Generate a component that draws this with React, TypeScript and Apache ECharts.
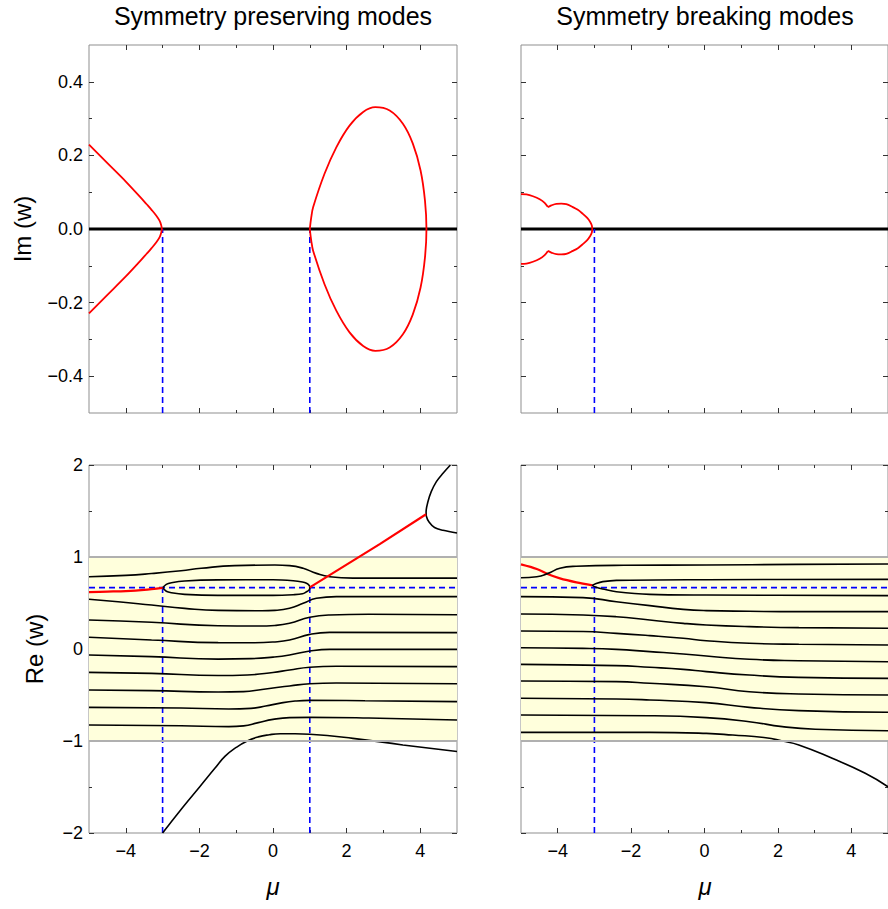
import React, { useEffect, useRef } from "react";
import * as echarts from "echarts";

// ---------- axis ranges and ticks ----------
const muRange = [-5, 5];
const imRange = [-0.5, 0.5];
const reRange = [-2, 2];
const bandRe = [-1, 1];
const xMajor = [-4, -2, 0, 2, 4];
const xMinor = [-3, -1, 1, 3];
const imMajor = [-0.4, -0.2, 0, 0.2, 0.4];
const imMinor = [-0.3, -0.1, 0.1, 0.3];
const reMajor = [-2, -1, 0, 1, 2];
const reMinor = [-1.5, -0.5, 0.5, 1.5];

// exceptional points
const epPreserving = [-3, 1];
const epBreaking = [-3];
const epRe = 0.667;

const titles = ["Symmetry preserving modes", "Symmetry breaking modes"];

// ---------- Symmetry preserving, Im(w) ----------
const spImLeft = [
  [-5, 0.229], [-4.5, 0.179], [-4, 0.129], [-3.6, 0.086], [-3.44, 0.068], [-3.3, 0.052], [-3.17, 0.036],
  [-3.08, 0.022], [-3.04, 0.011], [-3.02, 0], [-3.04, -0.011], [-3.08, -0.022], [-3.17, -0.036],
  [-3.3, -0.052], [-3.44, -0.068], [-3.6, -0.086], [-4, -0.129], [-4.5, -0.179], [-5, -0.229],
];
const spImLoop = [
  [1, 0], [1.04, 0.032], [1.09, 0.059], [1.4, 0.15], [1.72, 0.222], [2.08, 0.281], [2.45, 0.318],
  [2.78, 0.331], [3.17, 0.322], [3.53, 0.286], [3.8, 0.232], [4.01, 0.159], [4.13, 0.077], [4.17, 0],
  [4.13, -0.077], [4.01, -0.159], [3.8, -0.232], [3.53, -0.286], [3.17, -0.322], [2.78, -0.331],
  [2.45, -0.318], [2.08, -0.281], [1.72, -0.222], [1.4, -0.15], [1.09, -0.059], [1.04, -0.032], [1, 0],
];

// ---------- Symmetry breaking, Im(w) ----------
const sbImUpperArc = [
  [-5, 0.095], [-4.853, 0.094], [-4.674, 0.089], [-4.49, 0.081], [-4.356, 0.071], [-4.266, 0.0595],
];
const sbImLobe = [
  [-4.266, 0.0595], [-4.174, 0.064], [-4.038, 0.0685], [-3.902, 0.069], [-3.766, 0.0677],
  [-3.587, 0.0595], [-3.451, 0.052], [-3.315, 0.041], [-3.196, 0.03], [-3.114, 0.019], [-3.07, 0.0095],
  [-3.06, 0], [-3.07, -0.0095], [-3.114, -0.019], [-3.196, -0.03], [-3.315, -0.041], [-3.451, -0.052],
  [-3.587, -0.0595], [-3.766, -0.0677], [-3.902, -0.069], [-4.038, -0.0685], [-4.174, -0.064],
  [-4.266, -0.0595],
];
const sbImLowerArc = [
  [-4.266, -0.0595], [-4.356, -0.071], [-4.49, -0.081], [-4.674, -0.089], [-4.853, -0.094], [-5, -0.095],
];

// ---------- Symmetry preserving, Re(w) ----------
const spReRedLeft = [[-5, 0.618], [-4.5, 0.624], [-4, 0.63], [-3.5, 0.643], [-3, 0.665]];
const spReRedRight = [[1, 0.67], [2.9, 1.14], [4.16, 1.465]];
const spReTopBranch = [
  [4.82, 2.0], [4.62, 1.91], [4.44, 1.82], [4.3, 1.71], [4.21, 1.6], [4.16, 1.49], [4.17, 1.44],
  [4.24, 1.38], [4.39, 1.32], [4.62, 1.29], [5, 1.26],
];
const spReLoop = [
  [-3, 0.665], [-2.9, 0.703], [-2.76, 0.72], [-2.4, 0.739], [-1.5, 0.751], [0, 0.753], [0.55, 0.742],
  [0.8, 0.728], [0.91, 0.714], [0.98, 0.692], [1, 0.667], [0.98, 0.642], [0.91, 0.622], [0.8, 0.6],
  [0.55, 0.59], [0, 0.583], [-1.5, 0.583], [-2.4, 0.594], [-2.76, 0.612], [-2.9, 0.628], [-3, 0.665],
];
const spReA = [
  [-5, 0.786], [-4, 0.8], [-3.3, 0.82], [-2.5, 0.85], [-1.95, 0.877], [-1.04, 0.906], [0.05, 0.913],
  [0.45, 0.906], [0.82, 0.877], [1.18, 0.822], [1.54, 0.786], [2.17, 0.77], [5, 0.77],
];
const spReB = [
  [-5, 0.54], [-4.21, 0.514], [-3.3, 0.478], [-2.4, 0.442], [-1.49, 0.42], [-0.3, 0.416], [0.05, 0.42],
  [0.45, 0.442], [0.82, 0.496], [1.18, 0.551], [1.72, 0.569], [5, 0.569],
];
const spReC = [
  [-5, 0.315], [-3.3, 0.29], [-1.49, 0.253], [-0.4, 0.25], [0.05, 0.256], [0.45, 0.279], [1, 0.345],
  [1.54, 0.37], [2.6, 0.377], [5, 0.372],
];
const spReD = [
  [-5, 0.127], [-3.3, 0.098], [-1.49, 0.069], [-0.5, 0.068], [0, 0.076], [0.45, 0.098], [1, 0.159],
  [1.54, 0.181], [5, 0.178],
];
const spReE = [
  [-5, -0.065], [-3.3, -0.083], [-1.49, -0.11], [-0.6, -0.105], [0, -0.088], [0.45, -0.065],
  [1, -0.022], [1.54, -0.004], [5, -0.004],
];
const spReF = [
  [-5, -0.254], [-3.3, -0.265], [-1.49, -0.288], [-0.7, -0.282], [0, -0.255], [0.45, -0.228],
  [1, -0.199], [1.72, -0.188], [5, -0.192],
];
const spReG = [
  [-5, -0.446], [-3.3, -0.452], [-1.49, -0.467], [-0.8, -0.463], [-0.3, -0.44], [0.1, -0.418],
  [0.45, -0.402], [1, -0.377], [1.72, -0.37], [5, -0.377],
];
const spReH = [
  [-5, -0.634], [-2.5, -0.642], [-1.2, -0.652], [-0.6, -0.645], [-0.2, -0.62], [0.2, -0.588],
  [0.6, -0.566], [1, -0.558], [2.5, -0.562], [5, -0.572],
];
const spReI = [
  [-5, -0.826], [-2.5, -0.835], [-1.2, -0.844], [-0.8, -0.836], [-0.4, -0.8], [0, -0.765],
  [0.45, -0.746], [1, -0.743], [2.6, -0.75], [5, -0.772],
];
const spReBottom = [
  [-3, -2], [-2.45, -1.72], [-1.99, -1.497], [-1.58, -1.297], [-1.3, -1.165], [-1.0, -1.07],
  [-0.7, -1.0], [-0.4, -0.955], [-0.1, -0.932], [0.2, -0.922], [0.6, -0.922], [1, -0.927],
  [2.17, -0.971], [3.53, -1.043], [5, -1.115],
];

// ---------- Symmetry breaking, Re(w) ----------
const sbReRed = [[-5, 0.92], [-4.57, 0.87], [-4.26, 0.812], [-3.94, 0.768], [-3.49, 0.725], [-3.05, 0.692]];
const sbReTop = [
  [-5, 0.775], [-4.57, 0.786], [-4.26, 0.822], [-3.94, 0.877], [-3.5, 0.899], [-2.2, 0.91],
  [0.05, 0.913], [2.5, 0.92], [5, 0.924],
];
const sbReFork = [
  [5, 0.757], [0.05, 0.753], [-2.4, 0.746], [-2.77, 0.732], [-2.95, 0.712], [-3.05, 0.692],
  [-2.95, 0.67], [-2.77, 0.652], [-2.4, 0.623], [-1.49, 0.594], [0.05, 0.587], [5, 0.58],
];
const sbReJ = [
  [-5, 0.569], [-3.31, 0.558], [-2.4, 0.514], [-1.49, 0.471], [-0.58, 0.431], [0.05, 0.417],
  [1.22, 0.41], [2.57, 0.406], [5, 0.406],
];
const sbReK = [
  [-5, 0.38], [-3.31, 0.37], [-2.4, 0.351], [-1.49, 0.315], [-0.58, 0.279], [0.05, 0.261],
  [1.22, 0.243], [2.57, 0.232], [5, 0.225],
];
const sbReL = [
  [-5, 0.196], [-3.31, 0.19], [-2.4, 0.17], [-1.49, 0.145], [-0.58, 0.116], [0.05, 0.09],
  [1.22, 0.062], [2.57, 0.051], [5, 0.043],
];
const sbReM = [
  [-5, 0.014], [-3.31, 0.007], [-2.4, -0.004], [-1.49, -0.029], [-0.58, -0.054], [0.05, -0.076],
  [1.22, -0.112], [2.57, -0.127], [5, -0.138],
];
const sbReN = [
  [-5, -0.167], [-2.4, -0.181], [-1.49, -0.199], [-0.58, -0.221], [0.05, -0.246], [1.22, -0.283],
  [2.57, -0.308], [5, -0.319],
];
const sbReO = [
  [-5, -0.348], [-2.4, -0.355], [-1.49, -0.373], [0.05, -0.41], [1.22, -0.464], [2.57, -0.489],
  [5, -0.5],
];
const sbReP = [
  [-5, -0.536], [-2.4, -0.543], [-1.49, -0.554], [0.05, -0.583], [1.22, -0.634], [2.57, -0.67],
  [5, -0.688],
];
const sbReQ = [
  [-5, -0.717], [-1.49, -0.725], [0.05, -0.746], [1.22, -0.79], [2.12, -0.844], [3.02, -0.873],
  [5, -0.888],
];
const sbReR = [
  [-5, -0.906], [-1.49, -0.906], [0.05, -0.917], [0.77, -0.935], [1.67, -0.964], [2.12, -1.0],
  [2.57, -1.043], [3.48, -1.188], [4.38, -1.351], [5, -1.497],
];

// ---------- styling ----------
const FONT = '"Liberation Sans", Arial, Helvetica, sans-serif';
const RED = "#ff0000";
const BLACK = "#000000";
const BLUE = "#0000ff";
const BAND = "#ffffdc";
const FRAME = "#8f8f8f";
const TICK = "#333333";

const minusFmt = (s: string) => s.replace("-", "\u2212");
const fmtInt = (v: number) => minusFmt(String(Math.round(v)));
const fmtOne = (v: number) => minusFmt((Math.abs(v) < 1e-9 ? 0 : v).toFixed(1));

function xAxes(g: number, labels: boolean) {
  const base = {
    type: "value", gridIndex: g, min: muRange[0], max: muRange[1],
    splitLine: { show: false }, axisLine: { show: false, onZero: false },
  };
  const major = { show: true, inside: true, length: 5, customValues: xMajor, lineStyle: { color: TICK, width: 1 } };
  const minor = { show: true, inside: true, length: 3, customValues: xMinor, lineStyle: { color: TICK, width: 1 } };
  return [
    {
      ...base, position: "bottom", axisTick: major,
      axisLabel: { show: labels, customValues: xMajor, formatter: fmtInt, fontSize: 18, color: "#000", margin: 9, fontFamily: FONT },
    },
    { ...base, position: "bottom", axisTick: minor, axisLabel: { show: false } },
    { ...base, position: "top", axisTick: major, axisLabel: { show: false } },
    { ...base, position: "top", axisTick: minor, axisLabel: { show: false } },
  ];
}

function yAxes(g: number, range: number[], maj: number[], min: number[], fmt: (v: number) => string, labels: boolean) {
  const base = {
    type: "value", gridIndex: g, min: range[0], max: range[1],
    splitLine: { show: false }, axisLine: { show: false, onZero: false },
  };
  const major = { show: true, inside: true, length: 5, customValues: maj, lineStyle: { color: TICK, width: 1 } };
  const minor = { show: true, inside: true, length: 3, customValues: min, lineStyle: { color: TICK, width: 1 } };
  return [
    {
      ...base, position: "left", axisTick: major,
      axisLabel: { show: labels, customValues: maj, formatter: fmt, fontSize: 18, color: "#000", margin: 6, fontFamily: FONT },
    },
    { ...base, position: "left", axisTick: minor, axisLabel: { show: false } },
    { ...base, position: "right", axisTick: major, axisLabel: { show: false } },
    { ...base, position: "right", axisTick: minor, axisLabel: { show: false } },
  ];
}

function curve(g: number, data: number[][], color: string, width: number, smooth: number | boolean = 0.5, z = 4) {
  return {
    type: "line", xAxisIndex: g * 4, yAxisIndex: g * 4, data, symbol: "none", showSymbol: false,
    smooth, silent: true, z, clip: true, lineStyle: { color, width },
  };
}
function dashed(g: number, data: number[][]) {
  return {
    type: "line", xAxisIndex: g * 4, yAxisIndex: g * 4, data, symbol: "none", silent: true, z: 3,
    lineStyle: { color: BLUE, width: 1.6, type: [6, 4] },
  };
}
function band(g: number) {
  return {
    type: "line", xAxisIndex: g * 4, yAxisIndex: g * 4, data: [], symbol: "none", silent: true, z: 1,
    markArea: { silent: true, itemStyle: { color: BAND }, data: [[{ yAxis: bandRe[0] }, { yAxis: bandRe[1] }]] },
    markLine: {
      silent: true, symbol: "none", label: { show: false },
      lineStyle: { color: "#b0b0b0", width: 2, type: "solid" },
      data: bandRe.map((v) => ({ yAxis: v })),
    },
  };
}

export default function App() {
  const ref = useRef<HTMLDivElement>(null);
  useEffect(() => {
    if (!ref.current) return;
    const chart = echarts.init(ref.current, null, { renderer: "svg" });
    const grids = [
      { left: 89, top: 45, width: 368, height: 368 },
      { left: 521, top: 45, width: 368, height: 368 },
      { left: 89, top: 465, width: 368, height: 368 },
      { left: 521, top: 465, width: 368, height: 368 },
    ].map((g) => ({ ...g, show: true, borderColor: FRAME, borderWidth: 1, backgroundColor: "transparent" }));

    const series: any[] = [];
    const LOOP = 0.35;
    // top-left
    series.push(curve(0, [[muRange[0], 0], [muRange[1], 0]], BLACK, 3, false, 3));
    epPreserving.forEach((m) => series.push(dashed(0, [[m, imRange[0]], [m, 0]])));
    series.push(curve(0, spImLeft, RED, 1.8, LOOP));
    series.push(curve(0, spImLoop, RED, 1.8, LOOP));
    // top-right
    series.push(curve(1, [[muRange[0], 0], [muRange[1], 0]], BLACK, 3, false, 3));
    epBreaking.forEach((m) => series.push(dashed(1, [[m, imRange[0]], [m, 0]])));
    series.push(curve(1, sbImUpperArc, RED, 1.8, LOOP));
    series.push(curve(1, sbImLobe, RED, 1.8, LOOP));
    series.push(curve(1, sbImLowerArc, RED, 1.8, LOOP));
    // bottom-left
    series.push(band(2));
    series.push(curve(2, spReTopBranch, BLACK, 1.6, LOOP));
    series.push(curve(2, spReLoop, BLACK, 1.6, LOOP));
    [spReA, spReB, spReC, spReD, spReE, spReF, spReG, spReH, spReI, spReBottom].forEach((d) =>
      series.push(curve(2, d, BLACK, 1.6, 0.5))
    );
    series.push(curve(2, spReRedLeft, RED, 2.2, 0.3, 5));
    series.push(curve(2, spReRedRight, RED, 2.2, false, 5));
    series.push(dashed(2, [[muRange[0], epRe], [muRange[1], epRe]]));
    epPreserving.forEach((m) => series.push(dashed(2, [[m, reRange[0]], [m, epRe]])));
    // bottom-right
    series.push(band(3));
    series.push(curve(3, sbReRed, RED, 2.2, 0.3, 4));
    series.push(curve(3, sbReFork, BLACK, 1.6, LOOP));
    [sbReTop, sbReJ, sbReK, sbReL, sbReM, sbReN, sbReO, sbReP, sbReQ, sbReR].forEach((d) =>
      series.push(curve(3, d, BLACK, 1.6, 0.5))
    );
    series.push(dashed(3, [[muRange[0], epRe], [muRange[1], epRe]]));
    epBreaking.forEach((m) => series.push(dashed(3, [[m, reRange[0]], [m, epRe]])));

    const textStyle = (text: string, size: number, italic = false) => ({
      text, fontSize: size, fontFamily: FONT, fill: "#000", align: "center", verticalAlign: "middle",
      fontStyle: italic ? "italic" : "normal",
    });

    chart.setOption({
      animation: false,
      backgroundColor: "#ffffff",
      grid: grids,
      xAxis: [...xAxes(0, false), ...xAxes(1, false), ...xAxes(2, true), ...xAxes(3, true)],
      yAxis: [
        ...yAxes(0, imRange, imMajor, imMinor, fmtOne, true),
        ...yAxes(1, imRange, imMajor, imMinor, fmtOne, false),
        ...yAxes(2, reRange, reMajor, reMinor, fmtInt, true),
        ...yAxes(3, reRange, reMajor, reMinor, fmtInt, false),
      ],
      series,
      graphic: [
        { type: "text", x: 273, y: 16, style: textStyle(titles[0], 25) },
        { type: "text", x: 705, y: 16, style: textStyle(titles[1], 25) },
        { type: "text", x: 22, y: 229, rotation: Math.PI / 2, style: textStyle("Im (w)", 24) },
        { type: "text", x: 34, y: 649, rotation: Math.PI / 2, style: textStyle("Re (w)", 24) },
        { type: "text", x: 273, y: 886, style: textStyle("\u03bc", 24, true) },
        { type: "text", x: 705, y: 886, style: textStyle("\u03bc", 24, true) },
      ],
    });
    return () => chart.dispose();
  }, []);
  return <div ref={ref} style={{ position: "fixed", left: 0, top: 0, width: 888, height: 909, background: "#fff" }} />;
}
